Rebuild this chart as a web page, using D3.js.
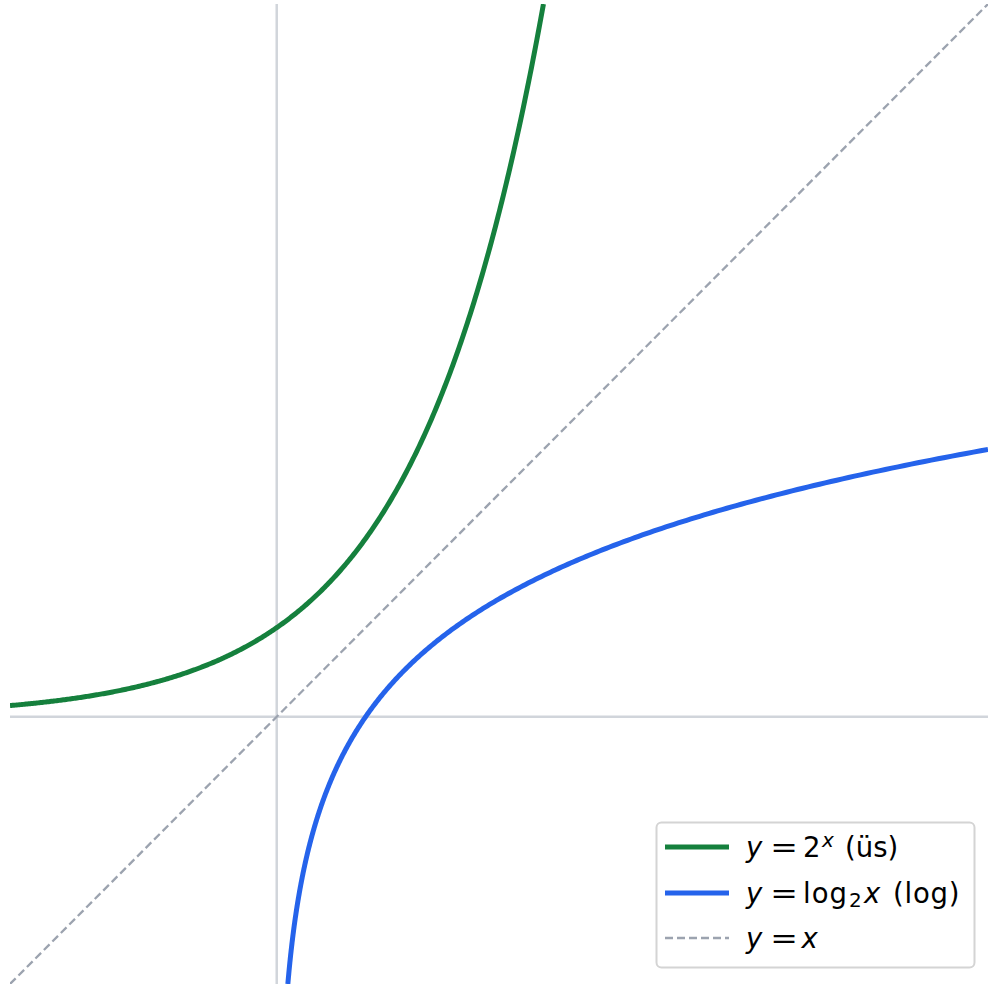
<!DOCTYPE html>
<html>
<head>
    <style>
        body { margin: 0; background: #fff; }
        svg { display: block; font-family: "DejaVu Sans", sans-serif; }
    </style>
</head>
<body>
    <svg width="988" height="988"></svg>

    <script src="https://d3js.org/d3.v7.min.js"></script>
    <script>
        // axis extents
        const xDomain = [-3, 8];
        const yDomain = [-3, 8];

        // x ranges where each curve is drawn: y = 2^x, y = log2 x, y = x
        const expRange = [-3, 3];
        const logRange = [0.125, 8];
        const idRange = [-3, 8];

        const legendLabels = ["y = 2^x (üs)", "y = log2 x (log)", "y = x"];
        const colors = { exp: "#15803d", log: "#2563eb", id: "#9ca3af", axis: "#d1d5db" };

        const svg = d3.select("svg");
        const x = d3.scaleLinear().domain(xDomain).range([10, 988]);
        const y = d3.scaleLinear().domain(yDomain).range([984, 4]);

        svg.append("defs").append("clipPath").attr("id", "clip")
            .append("rect").attr("x", 10).attr("y", 4).attr("width", 978).attr("height", 980);

        // zero lines
        svg.append("line")
            .attr("x1", x(xDomain[0])).attr("x2", x(xDomain[1]))
            .attr("y1", y(0)).attr("y2", y(0))
            .attr("stroke", colors.axis).attr("stroke-width", 2.5);
        svg.append("line")
            .attr("x1", x(0)).attr("x2", x(0))
            .attr("y1", y(yDomain[0])).attr("y2", y(yDomain[1]))
            .attr("stroke", colors.axis).attr("stroke-width", 2.5);

        const line = d3.line().x(d => x(d[0])).y(d => y(d[1]));
        const plot = svg.append("g").attr("clip-path", "url(#clip)");

        const sample = (r, n, f) => d3.range(n + 1).map(i => {
            const t = r[0] + (r[1] - r[0]) * i / n;
            return [t, f(t)];
        });

        plot.append("path")
            .datum(sample(idRange, 2, t => t))
            .attr("d", line).attr("fill", "none")
            .attr("stroke", colors.id).attr("stroke-width", 2.3)
            .attr("stroke-dasharray", "8,4");

        plot.append("path")
            .datum(sample(expRange, 400, t => Math.pow(2, t)))
            .attr("d", line).attr("fill", "none")
            .attr("stroke", colors.exp).attr("stroke-width", 5);

        // geometric spacing so the steep part near 0 stays smooth
        const logPts = d3.range(401).map(i => {
            const t = logRange[0] * Math.pow(logRange[1] / logRange[0], i / 400);
            return [t, Math.log2(t)];
        });
        plot.append("path")
            .datum(logPts)
            .attr("d", line).attr("fill", "none")
            .attr("stroke", colors.log).attr("stroke-width", 5);

        // legend
        const lg = svg.append("g");
        lg.append("rect")
            .attr("x", 656.5).attr("y", 822.5).attr("width", 318).attr("height", 145)
            .attr("rx", 5).attr("fill", "#fff").attr("fill-opacity", 0.8)
            .attr("stroke", "#d4d4d4").attr("stroke-width", 2);

        const fs = 27.5, small = 20;
        const rows = [
            { c: colors.exp, w: 5, dash: null, y: 847 },
            { c: colors.log, w: 5, dash: null, y: 893 },
            { c: colors.id, w: 2.3, dash: "8,4", y: 938 }
        ];

        const txt = (s, px, py, opts = {}) => lg.append("text")
            .attr("x", px).attr("y", py)
            .attr("font-size", opts.size || fs)
            .attr("font-style", opts.italic ? "italic" : null)
            .attr("fill", "#000")
            .text(s);

        rows.forEach((r, i) => {
            lg.append("line")
                .attr("x1", 665).attr("x2", 729).attr("y1", r.y).attr("y2", r.y)
                .attr("stroke", r.c).attr("stroke-width", r.w)
                .attr("stroke-dasharray", r.dash);

            const base = r.y + 10;
            txt("y", 746, base, { italic: true });
            // mathtext "=" is a bit wider than the plain glyph
            txt("=", 784, base)
                .attr("text-anchor", "middle")
                .attr("transform", `translate(784,0) scale(1.2,1) translate(-784,0)`);

            if (i === 0) {
                txt("2", 803, base);
                txt("x", 822, base - 10, { italic: true, size: small });
                txt("(üs)", 845, base);
            } else if (i === 1) {
                txt("log", 803, base).attr("letter-spacing", 1);
                txt("2", 849, base + 4, { size: small });
                txt("x", 864, base, { italic: true });
                txt("(log)", 893, base).attr("letter-spacing", 0.8);
            } else {
                txt("x", 801.5, base, { italic: true });
            }
        });
    </script>
</body>
</html>
